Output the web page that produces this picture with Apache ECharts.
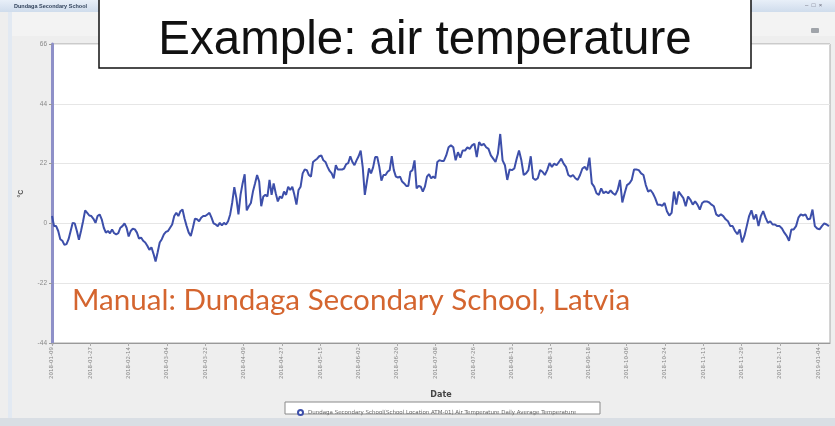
<!DOCTYPE html>
<html>
<head>
<meta charset="utf-8">
<script src="https://cdn.jsdelivr.net/npm/echarts@6/dist/echarts.min.js"></script>
<style>
  html, body { margin: 0; padding: 0; background: #eeeeee; }
  #chart { width: 835px; height: 426px; }
</style>
</head>
<body>
<div id="chart"></div>
<script>
// daily average air temperature (°C)
const startDate = Date.UTC(2018, 0, 9);
const seriesName = 'Dundaga Secondary School(School Location ATM-01) Air Temperature Daily Average Temperature';

// 2018-01-09 .. ~2018-07-10
const firstHalf = [
  2.7, -1, -1, -2.8, -5.8, -6.4, -7.9, -7.6, -5.8, -2.8,
  0.2, 0, -2.8, -6, -2.8, 0.8, 4.8, 3.9, 2.9, 2.7,
  1.7, 0.2, 2.7, 3.3, 1.5, -1.6, -3.4, -2.8, -3.6, -2.2,
  -3.6, -4, -3.6, -1.6, -1, 0, -1.6, -4.8, -2.8, -1.9,
  -2.2, -3.4, -5.6, -5.2, -6.4, -7, -8.2, -9.7, -8.8, -11.2,
  -14, -10.6, -7, -5.8, -4, -3.1, -2.8, -1.6, -0.4, 2.7,
  3.9, 2.7, 4.5, 5.1, 1.7, -1, -3.4, -4.6, -1.6, 1.7,
  1.5, 0.8, 2.1, 2.7, 2.7, 3.3, 3.9, 2.1, 0, -0.4,
  -1, 0.2, -0.7, 0.2, -0.4, 0.8, 3.3, 7.7, 13.3, 9.3,
  3.3, 10.5, 14.7, 18.1, 4.8, 6.3, 7.5, 11.7, 14.7, 17.8,
  15.4, 6.3, 9.9, 10.5, 9.9, 16, 10.5, 14.7, 11.1, 8.1,
  9.9, 9.3, 11.7, 10.5, 13.5, 12.3, 13.5, 10.5, 6.9, 12.3,
  13.5, 18.4, 19.8, 19.6, 17.8, 17.2, 22.6, 23.2, 23.8, 24.7,
  25, 23.2, 22.6, 20.8, 19.3, 18.4, 16.6, 21.4, 19.8, 19.8,
  19.8, 20.2, 21.8, 22.2, 24.7, 22.6, 21.4, 23.2, 24.7, 26.8,
  20.6, 10.5, 15.4, 20.2, 18.4, 20.6, 24.4, 24.4, 20.8, 15.7,
  17.8, 17.8, 19, 19.6, 24.7, 19.6, 17.2, 16.9, 17.2, 15.4,
  14.7, 13.8, 13.8, 19, 19.6, 23.2, 12.9, 13.8, 13.5, 11.7,
  13.5, 17.2, 18.1, 16.6, 17.2, 16.6, 22.6, 23.2
];

// ~2018-07-11 .. 2019-01-09
const secondHalf = [
  23, 23, 25, 28, 28.7, 28, 23.2, 26.2, 24.2, 26.8,
  26.8, 28, 27.4, 28.7, 29.3, 24.4, 29.9, 28.7, 29.3, 28,
  27.4, 25, 23.8, 22.6, 25.6, 32.9, 23.2, 21.4, 16, 19.8,
  19.6, 20.2, 23.8, 26.8, 23.2, 17.8, 18.4, 19.6, 24.7, 16.6,
  16, 16.6, 19.6, 19, 17.8, 19.6, 22.2, 20.8, 22, 21.4,
  22.6, 23.8, 22, 20.8, 17.8, 17.2, 17.8, 16.6, 16, 17.8,
  20.2, 20.8, 19.6, 24.2, 14.7, 13.5, 11.1, 10.5, 12.9, 11.1,
  11.7, 11.1, 12.1, 11.1, 10.5, 12.3, 16, 7.7, 11.1, 14.1,
  14.7, 16, 19.8, 19.8, 19.6, 18.4, 17.8, 14.1, 11.7, 12.3,
  11.1, 9.3, 6.9, 6.9, 6.5, 7.5, 4.5, 2.9, 3.9, 11.7,
  6.9, 11.7, 10.5, 9.3, 6.3, 9.9, 8.7, 6.9, 8.1, 6.9,
  5.1, 7.5, 8.1, 8.1, 7.7, 6.9, 6.3, 3.3, 2.7, 3.3,
  2.7, 1.5, 0.8, -1, -1, -2.8, -4, -2.2, -7, -4.6,
  -1, 2.7, 4.8, 1.5, 3.3, -1, 2.7, 4.5, 2.1, 0.2,
  0.8, -0.4, -0.4, -1, -1, -1.9, -3.4, -4.6, -6.4, -2.2,
  -2.2, -1, 2.1, 3.3, 2.9, 3.3, 1.5, 1.7, 5.1, -1,
  -1.9, -2.2, -1, 0, -0.4, -1
];

// the two halves cover day 0..182 and day 183..365
const points = [];
firstHalf.forEach((v, i) => points.push([182 * i / (firstHalf.length - 1), v]));
secondHalf.forEach((v, i) => points.push([183 + 182 * i / (secondHalf.length - 1), v]));

const dayLabel = d => new Date(startDate + d * 86400000).toISOString().slice(0, 10);

const chart = echarts.init(document.getElementById('chart'));

chart.setOption({
  backgroundColor: '#eeeeee',
  animation: false,
  grid: {
    left: 52, right: 5, top: 44, bottom: 83,
    show: true, backgroundColor: '#ffffff', borderColor: '#a8a8a8', borderWidth: 1
  },
  legend: {
    data: [seriesName],
    left: 292, top: 404,
    icon: 'emptyCircle',
    itemWidth: 5, itemHeight: 5, itemGap: 4,
    textStyle: { fontSize: 5.5, color: '#666', fontFamily: 'DejaVu Sans' }
  },
  xAxis: {
    type: 'value',
    min: 0, max: 365.5, interval: 18,
    name: 'Date', nameLocation: 'middle', nameGap: 48,
    nameTextStyle: { fontSize: 8, fontWeight: 'bold', color: '#444', fontFamily: 'DejaVu Sans' },
    axisLine: { onZero: false, lineStyle: { color: '#999' } },
    axisTick: { length: 3, lineStyle: { color: '#aaa' } },
    splitLine: { show: false },
    axisLabel: {
      rotate: 90, fontSize: 5.5, color: '#888', margin: 4,
      showMaxLabel: false, fontFamily: 'DejaVu Sans',
      formatter: v => (v % 18 === 0 ? dayLabel(v) : '')
    }
  },
  yAxis: {
    type: 'value',
    min: -44, max: 66, interval: 22,
    name: '°C', nameLocation: 'middle', nameGap: 27, nameRotate: 90,
    nameTextStyle: { fontSize: 7, color: '#555', fontWeight: 'bold' },
    axisLine: { show: true, lineStyle: { color: '#8e90c8', width: 3 } },
    axisTick: { show: true, length: 3, lineStyle: { color: '#999' } },
    axisLabel: { fontSize: 6.5, color: '#888', margin: 5 },
    splitLine: { lineStyle: { color: '#e6e6e6' } }
  },
  series: [{
    name: seriesName,
    type: 'line',
    data: points,
    showSymbol: false,
    lineStyle: { color: '#3d4faa', width: 2 },
    itemStyle: { color: '#3d4faa' }
  }],
  graphic: [
    // window chrome
    { type: 'rect', shape: { x: 0, y: 0, width: 835, height: 12 },
      style: { fill: new echarts.graphic.LinearGradient(0, 0, 0, 1, [
        { offset: 0, color: '#e8eff8' }, { offset: 1, color: '#cfdcec' }]) }, z: 1 },
    { type: 'text', x: 14, y: 3, style: { text: 'Dundaga Secondary School', fontSize: 5.5, fontWeight: 'bold', fill: '#33445c' }, z: 2 },
    { type: 'text', x: 805, y: 2, style: { text: '–  □  ×', fontSize: 6, fill: '#667' }, z: 2 },
    { type: 'rect', shape: { x: 8, y: 12, width: 4, height: 406 }, style: { fill: '#e2e9f2' }, z: 1 },
    { type: 'rect', shape: { x: 12, y: 12, width: 823, height: 24 }, style: { fill: '#f3f3f3' }, z: 1 },
    { type: 'rect', shape: { x: 811, y: 28, width: 8, height: 5, r: 1 }, style: { fill: '#a0a4aa' }, z: 2 },
    { type: 'rect', shape: { x: 0, y: 418, width: 835, height: 8 }, style: { fill: '#d9dee4' }, z: 1 },
    // legend box
    { type: 'rect', shape: { x: 285, y: 402, width: 315, height: 12 },
      style: { fill: '#ffffff', stroke: '#8a8a8a', lineWidth: 1 }, z: 1 },
    // annotation overlays
    { type: 'rect', shape: { x: 99, y: -2, width: 652, height: 70 },
      style: { fill: '#ffffff', stroke: '#111111', lineWidth: 1.5 }, z: 100 },
    { type: 'text', x: 425, y: 41, z: 101,
      style: { text: 'Example: air temperature', fontSize: 47.5, fontFamily: 'Liberation Sans',
               fill: '#111111', align: 'center', verticalAlign: 'middle' } },
    { type: 'text', x: 72, y: 300, z: 101,
      style: { text: 'Manual: Dundaga Secondary School, Latvia', fontSize: 29.6, fontFamily: 'Lato',
               fill: '#d4652f', align: 'left', verticalAlign: 'middle' } }
  ]
});
</script>
</body>
</html>
